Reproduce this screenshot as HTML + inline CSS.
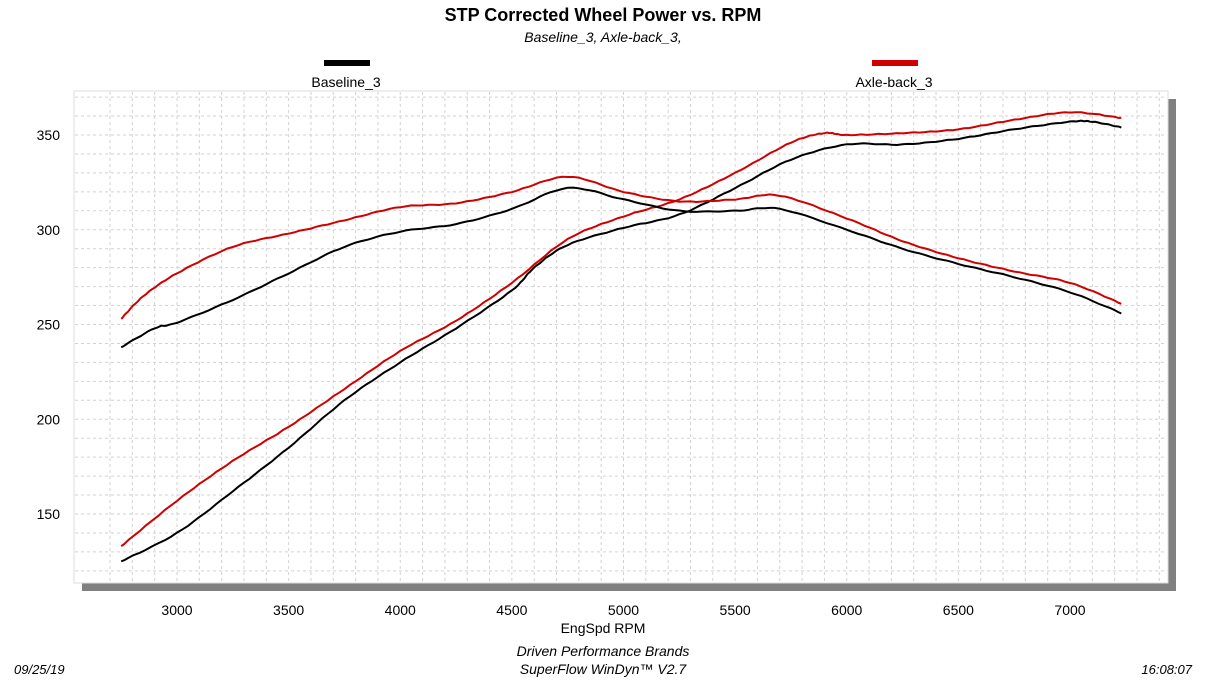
<!DOCTYPE html>
<html><head><meta charset="utf-8"><style>
body{margin:0;background:#fff;width:1206px;height:678px;overflow:hidden;font-family:"Liberation Sans",Arial,sans-serif}
</style></head><body>
<svg id="s" width="1206" height="678" xmlns="http://www.w3.org/2000/svg" font-family="Liberation Sans, Arial, sans-serif">
<rect x="0" y="0" width="1206" height="678" fill="#fff"/>
<text x="603" y="21" text-anchor="middle" font-size="18" font-weight="bold">STP Corrected Wheel Power vs. RPM</text>
<text x="603" y="42" text-anchor="middle" font-size="14" font-style="italic">Baseline_3, Axle-back_3,</text>
<rect x="324" y="60" width="46" height="6" fill="#000"/>
<text x="346" y="87" text-anchor="middle" font-size="14">Baseline_3</text>
<rect x="872" y="60" width="46" height="6" fill="#d00000"/>
<text x="894" y="87" text-anchor="middle" font-size="14">Axle-back_3</text>
<rect x="82" y="99" width="1094" height="492" fill="#808080"/>
<rect x="74" y="91" width="1094" height="492" fill="#fff" stroke="#ddd" stroke-width="1"/>
<g id="grid" stroke="#d2d2d2" stroke-width="1" stroke-dasharray="3,3"></g>
<g id="lab" font-size="14"></g>
<g id="curves" fill="none" stroke-width="2"></g>
<text x="603" y="633" text-anchor="middle" font-size="14">EngSpd  RPM</text>
<text x="603" y="656" text-anchor="middle" font-size="14" font-style="italic">Driven Performance Brands</text>
<text x="603" y="674" text-anchor="middle" font-size="14" font-style="italic">SuperFlow WinDyn™ V2.7</text>
<text x="14" y="674" font-size="13" font-style="italic">09/25/19</text>
<text x="1192" y="674" text-anchor="end" font-size="13" font-style="italic">16:08:07</text>
</svg>
<script>
const NS="http://www.w3.org/2000/svg";
const X=r=>177+(r-3000)*0.22325, Y=v=>135+(350-v)*1.895;
const g=document.getElementById('grid'),lab=document.getElementById('lab'),cv=document.getElementById('curves');
function el(t,a,p,txt){const e=document.createElementNS(NS,t);for(const k in a)e.setAttribute(k,a[k]);if(txt)e.textContent=txt;p.appendChild(e);return e;}
for(let r=2700;r<=7400;r+=100){const x=X(r);if(x>76&&x<1166)el('line',{x1:x,y1:92,x2:x,y2:582},g);}
for(let v=120;v<=370;v+=10){const y=Y(v);if(y>92&&y<582)el('line',{x1:75,y1:y,x2:1167,y2:y},g);}
for(let r=3000;r<=7000;r+=500)el('text',{x:X(r),y:615,'text-anchor':'middle'},lab,String(r));
for(let v=150;v<=350;v+=50)el('text',{x:60,y:Y(v)+5,'text-anchor':'end'},lab,String(v));
function path(d,c,ph){let pts=d.map(p=>[X(p[0]),Y(p[1])]);let s='M'+pts[0].join(',');
for(let i=0;i<pts.length-1;i++){const p0=pts[i-1]||pts[i],p1=pts[i],p2=pts[i+1],p3=pts[i+2]||p2;
const steps=10;for(let k=1;k<=steps;k++){const t=k/steps,t2=t*t,t3=t2*t;
let x=0.5*((2*p1[0])+(-p0[0]+p2[0])*t+(2*p0[0]-5*p1[0]+4*p2[0]-p3[0])*t2+(-p0[0]+3*p1[0]-3*p2[0]+p3[0])*t3);
let y=0.5*((2*p1[1])+(-p0[1]+p2[1])*t+(2*p0[1]-5*p1[1]+4*p2[1]-p3[1])*t2+(-p0[1]+3*p1[1]-3*p2[1]+p3[1])*t3);
y+=Math.sin((i*steps+k)*ph)*0.35;s+=' L'+x.toFixed(1)+','+y.toFixed(1);}}
el('path',{d:s,stroke:c},cv);}
path([[2750,125],[3000,140],[3250,162],[3500,185],[3750,210],[4000,230],[4250,248],[4500,268],[4600,280],[4750,292],[5000,301],[5250,308],[5500,322],[5750,337],[6000,345],[6250,345],[6500,348],[6750,353],[7000,357],[7100,357],[7230,354]],'#000',1.7);
path([[2750,133],[3000,157],[3250,178],[3500,196],[3750,216],[4000,236],[4250,252],[4500,272],[4750,295],[5000,307],[5250,316],[5500,330],[5750,346],[5900,351],[6000,350],[6250,351],[6500,353],[6750,358],[7000,362],[7230,359]],'#d00000',2.1);
path([[2750,238],[2900,248],[3000,251],[3250,263],[3500,277],[3750,291],[4000,299],[4250,303],[4500,311],[4750,322],[5000,316],[5250,310],[5500,310],[5700,311],[6000,300],[6250,290],[6500,282],[6750,275],[7000,267],[7230,256]],'#000',1.3);
path([[2750,253],[2850,265],[3000,277],[3250,291],[3500,298],[3750,305],[4000,312],[4250,314],[4500,320],[4750,328],[5000,320],[5250,315],[5500,316],[5700,318],[6000,306],[6250,294],[6500,285],[6750,278],[7000,272],[7230,261]],'#d00000',1.9);
</script>
</body></html>
